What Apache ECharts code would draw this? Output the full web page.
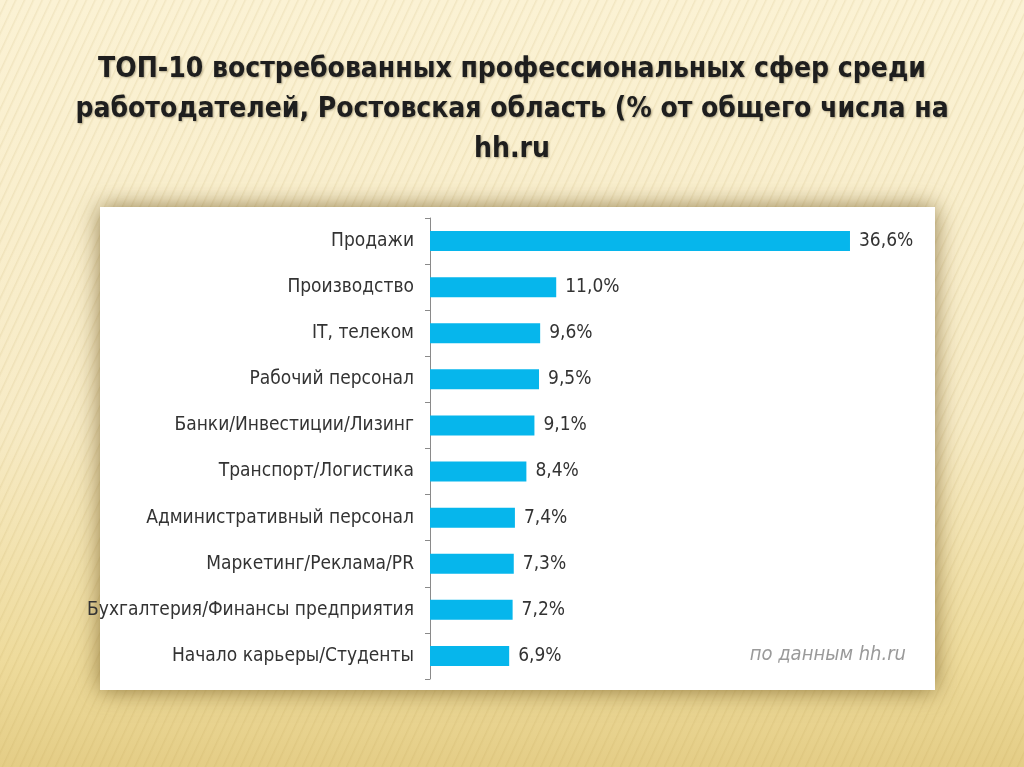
<!DOCTYPE html>
<html>
<head>
<meta charset="utf-8">
<script src="https://cdn.jsdelivr.net/npm/echarts@6/dist/echarts.min.js"></script>
<style>
html,body{margin:0;padding:0;width:1024px;height:767px;overflow:hidden;}
body{
  background:
    repeating-linear-gradient(115deg, rgba(255,255,255,0) 0px, rgba(255,255,255,0) 5px, rgba(180,150,70,0.13) 6px, rgba(255,255,255,0) 8px),
    linear-gradient(180deg, #fbf2d4 0%, #f7ebc6 55%, #eedb9c 86%, #e4cd86 100%);
}
#chart{width:1024px;height:767px;}
</style>
</head>
<body>
<div id="chart"></div>
<script>
const titleLines = [
  'ТОП-10 востребованных профессиональных сфер среди',
  'работодателей, Ростовская область (% от общего числа на',
  'hh.ru'
];
const categories = [
  'Продажи',
  'Производство',
  'IT, телеком',
  'Рабочий персонал',
  'Банки/Инвестиции/Лизинг',
  'Транспорт/Логистика',
  'Административный персонал',
  'Маркетинг/Реклама/PR',
  'Бухгалтерия/Финансы предприятия',
  'Начало карьеры/Студенты'
];
const values = [36.6, 11.0, 9.6, 9.5, 9.1, 8.4, 7.4, 7.3, 7.2, 6.9];
const sourceNote = 'по данным hh.ru';

const narrow = '"Liberation Sans Narrow", "DejaVu Sans Condensed", "Roboto Condensed", sans-serif';

const chart = echarts.init(document.getElementById('chart'));
chart.setOption({
  backgroundColor: 'transparent',
  animation: false,
  title: {
    text: titleLines.join('\n'),
    left: 'center',
    top: 45,
    textStyle: {
      fontFamily: narrow,
      fontWeight: 'bold',
      fontSize: 28,
      lineHeight: 40,
      color: '#1e1e1e',
      textShadowColor: 'rgba(90,80,50,0.45)',
      textShadowBlur: 2,
      textShadowOffsetX: 1,
      textShadowOffsetY: 1
    }
  },
  graphic: [
    {
      type: 'rect',
      z: -10,
      shape: { x: 100, y: 207, width: 835, height: 483 },
      style: {
        fill: '#ffffff',
        shadowBlur: 22,
        shadowColor: 'rgba(110,85,30,0.75)',
        shadowOffsetX: 0,
        shadowOffsetY: 0
      }
    },
    {
      type: 'text',
      right: 118,
      top: 645,
      style: {
        text: sourceNote,
        fontFamily: narrow,
        fontStyle: 'italic',
        fontSize: 20,
        fill: '#9a9a9a'
      }
    }
  ],
  grid: { left: 430, top: 218, width: 459, height: 461, containLabel: false },
  xAxis: {
    type: 'value',
    min: 0,
    max: 40,
    show: false
  },
  yAxis: {
    type: 'category',
    data: categories,
    inverse: true,
    axisLine: { show: true, lineStyle: { color: '#8a8a8a', width: 1 } },
    axisTick: { show: true, length: 5, lineStyle: { color: '#8a8a8a' } },
    axisLabel: {
      margin: 16,
      fontFamily: narrow,
      fontSize: 19,
      color: '#333333'
    },
    splitLine: { show: false }
  },
  series: [{
    type: 'bar',
    data: values,
    barWidth: 20,
    itemStyle: { color: '#06b6ec' },
    label: {
      show: true,
      position: 'right',
      distance: 9,
      fontFamily: narrow,
      fontSize: 19,
      color: '#333333',
      formatter: p => p.value.toFixed(1).replace('.', ',') + '%'
    }
  }]
});
</script>
</body>
</html>
